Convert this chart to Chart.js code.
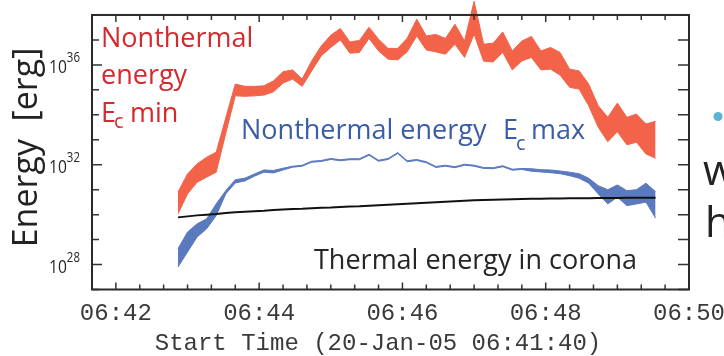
<!DOCTYPE html>
<html>
<head>
<meta charset="utf-8">
<script src="https://cdn.jsdelivr.net/npm/chart.js@4/dist/chart.umd.min.js"></script>
<style>
  html, body { margin: 0; padding: 0; background: #fff; overflow: hidden; }
  #wrap { position: relative; width: 724px; height: 356px; }
</style>
</head>
<body>
<div id="wrap"><canvas id="c" width="724" height="356"></canvas></div>
<script>
// Sample times, seconds after the start time 06:41:40
const times = [72, 80, 88, 96, 104, 112, 120, 128, 136, 144, 152, 160, 168, 176, 184, 192, 200,
  208, 216, 224, 232, 240, 248, 256, 264, 272, 280, 288, 296, 304, 312, 320, 328, 336, 344,
  352, 360, 368, 376, 384, 392, 400, 408, 416, 424, 432, 440, 448, 456, 464, 472];

// Energies as log10(E / erg)
// Nonthermal energy for the minimum cutoff energy: upper and lower bounds
const ntMinHigh = [30.90, 31.63, 32.03, 32.30, 32.50, 33.87, 35.23, 35.14, 35.14, 35.16, 35.36,
  35.73, 35.80, 35.43, 36.16, 36.76, 37.19, 37.46, 36.92, 36.98, 37.51, 37.03, 36.66, 36.66,
  37.07, 37.83, 37.16, 37.22, 37.06, 37.63, 36.96, 38.55, 36.83, 36.87, 37.32, 36.56, 36.96,
  37.14, 36.56, 36.70, 36.50, 35.83, 35.76, 35.23, 34.36, 33.90, 34.47, 33.90, 34.03, 33.63, 33.74];
const ntMinLow = [30.03, 30.83, 31.30, 31.50, 31.70, 33.25, 34.76, 34.74, 34.76, 34.79, 34.92,
  35.27, 35.43, 35.14, 35.76, 36.36, 36.70, 37.00, 36.47, 36.50, 37.06, 36.56, 36.23, 36.20,
  36.53, 37.16, 36.60, 36.52, 36.43, 36.83, 36.30, 37.23, 36.15, 36.12, 36.50, 35.80, 36.16,
  36.30, 35.80, 35.83, 35.59, 35.10, 35.03, 34.36, 33.50, 32.92, 33.32, 32.80, 32.90, 32.43, 32.26];

// Nonthermal energy for the maximum cutoff energy: upper and lower bounds
const ntMaxHigh = [28.63, 29.30, 29.63, 29.83, 30.43, 30.96, 31.40, 31.46, 31.63, 31.79, 31.77,
  31.86, 31.94, 31.98, 32.14, 32.17, 32.25, 32.20, 32.24, 32.24, 32.42, 32.18, 32.25, 32.49,
  32.16, 32.21, 32.12, 31.93, 31.98, 31.92, 32.02, 31.98, 31.89, 31.88, 31.96, 31.82, 31.85,
  31.84, 31.80, 31.79, 31.75, 31.70, 31.64, 31.46, 31.16, 31.00, 31.19, 30.96, 31.00, 31.26, 30.92];
const ntMaxLow = [27.90, 28.50, 29.10, 29.43, 29.96, 30.83, 31.27, 31.35, 31.54, 31.70, 31.67,
  31.79, 31.90, 31.94, 32.10, 32.13, 32.21, 32.16, 32.20, 32.20, 32.38, 32.14, 32.21, 32.45,
  32.12, 32.17, 32.08, 31.89, 31.94, 31.88, 31.98, 31.94, 31.85, 31.84, 31.92, 31.78, 31.81,
  31.74, 31.71, 31.68, 31.64, 31.56, 31.46, 31.26, 30.83, 30.43, 30.70, 30.36, 30.43, 30.50, 29.86];

// Thermal energy in the corona
const thermal = [29.89, 29.93, 29.97, 30.00, 30.03, 30.07, 30.10, 30.12, 30.14, 30.16, 30.19,
  30.21, 30.23, 30.24, 30.26, 30.28, 30.29, 30.31, 30.33, 30.34, 30.36, 30.38, 30.40, 30.42,
  30.44, 30.46, 30.48, 30.50, 30.52, 30.54, 30.56, 30.58, 30.59, 30.60, 30.61, 30.62, 30.63,
  30.635, 30.64, 30.645, 30.65, 30.655, 30.66, 30.66, 30.665, 30.67, 30.67, 30.675, 30.68, 30.68, 30.68];

// Axis ticks
const xTickSeconds = [20, 140, 260, 380, 500];
const xTickLabels = ['06:42', '06:44', '06:46', '06:48', '06:50'];
const yDecades = [27, 28, 29, 30, 31, 32, 33, 34, 35, 36, 37, 38];
const yLabelExps = [28, 32, 36];

const X_MIN = 0, X_MAX = 500;
const Y_MIN_EXP = 27, Y_FRAME_EXP = 38, Y_TOP_EXP = 38.6;

const RED = '#f2634a';
const BLUE = '#5b79be';
const RED_TEXT = '#d42a2e';
const BLUE_TEXT = '#3b5ca6';
const INK = '#262626';

function pts(exps) {
  return times.map((t, i) => ({ x: t, y: Math.pow(10, exps[i]) }));
}

const annotate = {
  id: 'annotate',
  afterDraw(chart) {
    const ctx = chart.ctx;
    const xs = chart.scales.x, ys = chart.scales.y;
    const L = xs.getPixelForValue(X_MIN), R = xs.getPixelForValue(X_MAX);
    const T = ys.getPixelForValue(Math.pow(10, Y_FRAME_EXP));
    const B = ys.getPixelForValue(Math.pow(10, Y_MIN_EXP));
    ctx.save();

    // y ticks, left and right, pointing inward
    ctx.strokeStyle = '#333';
    ctx.lineWidth = 1.5;
    ctx.beginPath();
    yDecades.forEach(e => {
      const y = ys.getPixelForValue(Math.pow(10, e));
      const len = yLabelExps.includes(e) ? 10 : 7;
      ctx.moveTo(L, y); ctx.lineTo(L + len, y);
      ctx.moveTo(R, y); ctx.lineTo(R - 11, y);
    });
    // x ticks every 20 s, top and bottom
    for (let s = X_MIN; s <= X_MAX; s += 20) {
      const x = xs.getPixelForValue(s);
      const len = xTickSeconds.includes(s) ? 7 : 5;
      ctx.moveTo(x, B); ctx.lineTo(x, B - len);
      ctx.moveTo(x, T); ctx.lineTo(x, T + len);
    }
    ctx.stroke();

    // frame
    ctx.strokeStyle = '#2a2a2a';
    ctx.lineWidth = 2;
    ctx.strokeRect(L, T, R - L, B - T);

    // y tick labels: 10 with a raised exponent, set in a condensed width
    ctx.fillStyle = INK;
    ctx.textAlign = 'right';
    ctx.textBaseline = 'alphabetic';
    yLabelExps.forEach(e => {
      const y = ys.getPixelForValue(Math.pow(10, e));
      ctx.save();
      ctx.translate(80, y);
      ctx.scale(0.82, 1);
      ctx.font = '14px "Open Sans"';
      const sup = String(e);
      const w = ctx.measureText(sup).width;
      ctx.fillText(sup, 0, -2.4);
      ctx.font = '19px "Open Sans"';
      ctx.fillText('10', -w, 8.3);
      ctx.restore();
    });

    // x tick labels and axis title
    ctx.textAlign = 'center';
    ctx.fillStyle = '#3a3a3a';
    ctx.font = '24px "Liberation Mono"';
    xTickSeconds.forEach((s, i) => {
      ctx.fillText(xTickLabels[i], xs.getPixelForValue(s), 320);
    });
    ctx.fillText('Start Time (20-Jan-05 06:41:40)', 378, 350);

    // y axis title
    ctx.save();
    ctx.translate(37, 147.5);
    ctx.rotate(-Math.PI / 2);
    ctx.font = '34px "Open Sans"';
    ctx.fillStyle = '#222';
    ctx.fillText('Energy  [erg]', 0, 0);
    ctx.restore();

    // curve labels
    ctx.textAlign = 'left';
    ctx.fillStyle = RED_TEXT;
    ctx.font = '27px "Open Sans"';
    ctx.fillText('Nonthermal', 101, 46.7);
    ctx.fillText('energy', 101, 84);
    ctx.fillText('E', 101, 121.7);
    ctx.font = '20px "Open Sans"';
    ctx.fillText('c', 114, 128.3);
    ctx.font = '27px "Open Sans"';
    ctx.fillText('min', 130, 121.7);

    ctx.fillStyle = BLUE_TEXT;
    ctx.fillText('Nonthermal energy', 241, 139.3);
    ctx.fillText('E', 503, 139.3);
    ctx.font = '20px "Open Sans"';
    ctx.fillText('c', 516, 150);
    ctx.font = '27px "Open Sans"';
    ctx.fillText('max', 531, 139.3);

    ctx.fillStyle = INK;
    ctx.fillText('Thermal energy in corona', 314, 269);

    // neighbouring panel content at the right edge
    ctx.fillStyle = '#5ab2d5';
    ctx.beginPath();
    ctx.arc(718, 116.5, 4.5, 0, Math.PI * 2);
    ctx.fill();
    ctx.fillStyle = '#222';
    ctx.font = '42px "Open Sans"';
    ctx.fillText('w', 703, 185);
    ctx.fillText('h', 705, 237);

    ctx.restore();
  }
};

new Chart(document.getElementById('c'), {
  type: 'line',
  data: {
    datasets: [
      { data: pts(ntMinHigh), borderColor: RED, backgroundColor: RED, borderWidth: 1, fill: '+1', order: 1 },
      { data: pts(ntMinLow), borderColor: RED, backgroundColor: RED, borderWidth: 1, fill: false, order: 1 },
      { data: pts(ntMaxHigh), borderColor: BLUE, backgroundColor: BLUE, borderWidth: 1, fill: '+1', order: 1 },
      { data: pts(ntMaxLow), borderColor: BLUE, backgroundColor: BLUE, borderWidth: 1, fill: false, order: 1 },
      { data: pts(thermal), borderColor: '#111', backgroundColor: '#111', borderWidth: 2, fill: false, order: 0 }
    ]
  },
  options: {
    responsive: false,
    animation: false,
    devicePixelRatio: 1,
    layout: { padding: { left: 92, right: 35, top: 0, bottom: 66.5 } },
    plugins: { legend: { display: false }, tooltip: { enabled: false } },
    elements: { point: { radius: 0 }, line: { tension: 0 } },
    scales: {
      x: { type: 'linear', display: false, min: X_MIN, max: X_MAX },
      y: { type: 'logarithmic', display: false, min: Math.pow(10, Y_MIN_EXP), max: Math.pow(10, Y_TOP_EXP) }
    }
  },
  plugins: [annotate]
});
</script>
</body>
</html>
